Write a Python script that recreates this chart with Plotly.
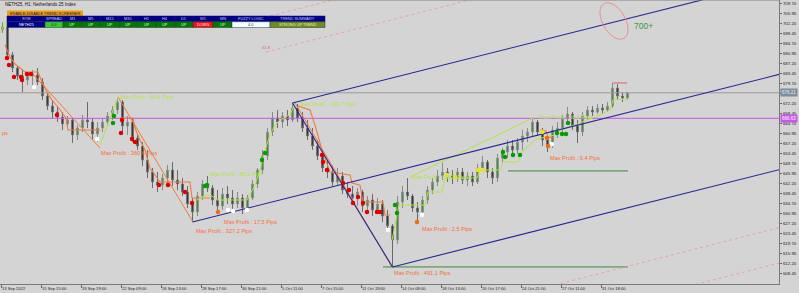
import numpy as np
import plotly.graph_objects as go

# ---------------- data ----------------
opens = [699.75, 700.9, 690.4, 685.5, 682.5, 681.0, 682.5, 682.9, 680.25, 675.0,
         671.25, 669.0, 667.1, 664.5, 666.0, 660.4, 663.0, 666.0, 665.25, 660.75,
         663.0, 665.25, 667.5, 669.75, 672.75, 663.75, 665.25, 659.25, 656.25, 651.0,
         646.5, 642.75, 641.6, 644.25, 647.25, 643.5, 642.0, 639.0, 634.5, 631.5,
         637.5, 642.0, 640.5, 636.0, 633.75, 638.25, 636.75, 634.5, 636.75, 633.0,
         636.75, 642.0, 647.25, 652.5, 661.5, 666.75, 665.25, 667.5, 666.0, 670.5,
         666.75, 663.0, 660.0, 656.25, 652.5, 648.0, 646.5, 642.75, 645.0, 639.75,
         638.25, 636.75, 639.0, 633.75, 636.0, 632.25, 634.5, 630.0, 626.25, 621.0,
         635.25, 639.0, 637.5, 633.0, 631.5, 636.0, 639.75, 642.75, 645.0, 646.5,
         645.0, 644.25, 646.5, 643.5, 645.0, 642.75, 648.0, 650.25, 646.5, 644.25,
         651.75, 654.0, 656.25, 654.75, 657.75, 660.0, 661.5, 665.25, 661.5, 658.5,
         656.25, 662.25, 663.0, 666.75, 668.25, 663.75, 661.5, 667.5, 669.75, 669.0,
         670.5, 669.75, 671.25, 678.0, 675.0, 674.25]
highs = [702.75, 701.6, 691.5, 686.25, 684.75, 684.0, 684.75, 685.5, 681.75, 676.5,
         673.5, 671.25, 669.0, 667.5, 666.75, 664.1, 667.9, 672.75, 666.75, 665.25,
         666.75, 669.0, 671.25, 674.6, 673.5, 667.5, 666.75, 660.4, 657.75, 654.75,
         648.0, 646.5, 645.75, 649.1, 650.25, 647.25, 644.25, 641.25, 636.75, 639.0,
         643.5, 645.0, 641.6, 639.75, 640.5, 641.25, 639.75, 639.0, 638.25, 637.9,
         643.5, 648.0, 654.75, 663.0, 669.0, 669.75, 669.0, 669.75, 672.4, 672.0,
         669.0, 666.0, 663.0, 658.5, 654.75, 651.0, 649.1, 648.0, 646.5, 642.75,
         641.25, 640.5, 639.75, 637.5, 638.25, 636.75, 636.0, 632.25, 627.0, 637.5,
         641.25, 644.25, 638.25, 635.25, 637.5, 641.25, 644.25, 647.25, 649.9, 648.0,
         647.25, 648.0, 648.0, 646.5, 646.5, 649.5, 652.5, 651.0, 648.0, 653.25,
         655.5, 658.5, 658.5, 659.25, 662.25, 663.0, 666.75, 666.0, 663.0, 660.0,
         663.75, 665.25, 667.9, 670.9, 669.0, 666.0, 669.0, 671.25, 671.25, 672.0,
         672.0, 672.75, 679.9, 679.5, 676.5, 676.5]
lows = [698.6, 688.5, 684.0, 681.0, 676.5, 679.1, 678.0, 679.1, 673.5, 669.75,
        666.75, 665.25, 662.25, 663.0, 657.4, 658.5, 661.5, 663.0, 658.5, 657.75,
        661.5, 663.75, 666.0, 668.25, 661.5, 660.4, 657.75, 654.75, 648.75, 644.25,
        640.5, 639.0, 639.75, 642.0, 641.25, 639.75, 637.5, 633.0, 627.75, 630.0,
        636.0, 639.0, 634.1, 631.5, 632.25, 634.5, 632.25, 633.0, 630.75, 631.5,
        636.0, 640.5, 645.75, 651.0, 660.0, 663.0, 663.0, 663.75, 665.25, 665.25,
        661.5, 658.5, 654.75, 651.0, 646.5, 644.25, 641.25, 641.25, 638.25, 636.75,
        635.25, 633.75, 631.5, 630.75, 630.0, 630.75, 627.75, 624.0, 610.9, 619.5,
        633.0, 636.0, 631.5, 627.0, 630.0, 634.5, 638.25, 641.25, 643.5, 642.75,
        642.0, 642.75, 642.0, 641.25, 641.25, 642.0, 646.5, 644.25, 642.0, 642.75,
        650.25, 651.75, 652.5, 653.25, 654.75, 657.75, 660.0, 660.0, 656.25, 654.0,
        655.5, 659.25, 661.5, 665.25, 662.25, 657.4, 660.0, 666.0, 667.5, 668.25,
        668.25, 669.0, 670.5, 673.5, 672.75, 673.5]
closes = [700.9, 690.4, 685.5, 682.5, 681.0, 682.5, 682.9, 680.25, 675.0, 671.25,
          669.0, 667.1, 664.5, 666.0, 660.4, 663.0, 666.0, 665.25, 660.75, 663.0,
          665.25, 667.5, 669.75, 672.75, 663.75, 665.25, 659.25, 656.25, 651.0, 646.5,
          642.75, 641.6, 644.25, 647.25, 643.5, 642.0, 639.0, 634.5, 631.5, 637.5,
          642.0, 640.5, 636.0, 633.75, 638.25, 636.75, 634.5, 636.75, 633.0, 636.75,
          642.0, 647.25, 652.5, 661.5, 666.75, 665.25, 667.5, 666.0, 670.5, 666.75,
          663.0, 660.0, 656.25, 652.5, 648.0, 646.5, 642.75, 645.0, 639.75, 638.25,
          636.75, 639.0, 633.75, 636.0, 632.25, 634.5, 630.0, 626.25, 621.0, 635.25,
          639.0, 637.5, 633.0, 631.5, 636.0, 639.75, 642.75, 645.0, 646.5, 645.0,
          644.25, 646.5, 643.5, 645.0, 642.75, 648.0, 650.25, 646.5, 644.25, 651.75,
          654.0, 656.25, 654.75, 657.75, 660.0, 661.5, 665.25, 661.5, 658.5, 656.25,
          662.25, 663.0, 666.75, 668.25, 663.75, 661.5, 667.5, 669.75, 669.0, 670.5,
          669.75, 671.25, 678.0, 675.0, 674.25, 676.21]

x_tick_bars = [-0.3, 7.7, 15.7, 23.7, 31.7, 39.7, 47.7, 55.7, 63.7, 71.7,
               79.7, 87.7, 95.7, 103.7, 111.7, 119.7]
x_tick_labels = ["13 Sep 2022", "15 Sep 15:00", "19 Sep 19:00", "22 Sep 09:00",
                 "26 Sep 13:00", "28 Sep 17:00", "30 Sep 21:00", "5 Oct 11:00",
                 "7 Oct 15:00", "11 Oct 19:00", "14 Oct 08:00", "18 Oct 13:00",
                 "20 Oct 17:00", "24 Oct 21:00", "27 Oct 11:00", "31 Oct 18:00"]
y_ticks = [709.70, 705.95, 702.20, 698.45, 694.70, 690.95, 687.20, 683.45, 679.70,
           675.95, 672.20, 668.45, 664.70, 660.95, 657.20, 653.45, 649.70, 645.95,
           642.20, 638.45, 634.70, 630.95, 627.20, 623.45, 619.70, 615.95, 612.20, 608.45]

bid_price = 676.21
magenta_level = 666.63

# trend channel (anchor points: bar, price)
chan_upper = ([58, 100], [672.4, 692.2])
chan_mid = ([38, 100], [627.75, 657.0])
chan_low = ([78, 120], [610.9, 630.7])
trend_down = ([58, 78], [672.4, 610.9])
# dotted fib lines
fib_a = ([52.7, 80], [691.5, 704.6])
fib_b = ([53.5, 60], [705.0, 708.1])
fib_c = ([147.5, 120], [621.9, 608.7])
fib_d = ([147.5, 140], [608.6, 605.0])

# zigzag / trailing indicator lines
orange_zz = [([5.9, 19.5], [683.6, 655.5]),
             ([23.1, 38.1], [674.6, 627.75]),
             ([58.5, 77.9], [672.4, 610.9])]
orange_trail = [
    ([0.5, 1.5, 2.5, 3.5, 4.5, 7.1, 7.9, 8.9, 9.9, 10.9, 11.9, 12.7, 13.1, 19.5],
     [694.1, 689.6, 687.0, 685.5, 684.0, 684.0, 680.25, 676.5, 673.5, 671.25, 668.6, 666.75, 662.25, 662.25]),
    ([23.5, 26.1, 26.5, 27.5, 28.5, 29.5, 31.5, 37.5, 37.9, 41.5],
     [666.75, 666.75, 663.0, 658.5, 654.75, 648.0, 642.75, 642.75, 636.75, 636.75]),
    ([59.1, 61.5, 62.5, 63.9, 65.5, 69.5, 69.9, 71.5, 72.1, 76.1, 76.5, 77.5],
     [671.25, 669.75, 664.1, 654.75, 646.5, 645.4, 642.4, 641.6, 635.25, 635.25, 630.4, 630.4]),
    ([107.5, 108.7, 109.1, 110.1], [662.25, 661.9, 659.6, 659.25]),
]
green_trail = [
    ([-0.5, 0.9], [698.6, 703.5]),
    ([19.5, 23.1], [656.6, 674.6]),
    ([38.9, 40.9, 41.9, 42.9, 48.9, 49.5, 50.5, 51.5, 52.5, 53.5, 54.5, 55.5, 57.5, 58.5],
     [636.0, 637.9, 637.5, 636.0, 636.0, 637.9, 641.6, 647.25, 654.75, 660.4, 664.1, 666.0, 667.9, 672.0]),
    ([77.9, 78.5, 79.3, 84.5, 85.1, 87.9, 88.5, 94.9, 95.5, 99.5, 100.1, 103.1, 103.9, 106.5,
      108.5, 110.5, 111.5, 112.9, 115.5, 119.5, 121.5, 122.1, 125.1],
     [621.0, 626.6, 634.1, 634.1, 639.0, 639.0, 644.25, 644.25, 647.25, 647.25, 650.25, 650.25,
      654.0, 658.5, 659.6, 660.4, 662.25, 663.0, 664.9, 667.9, 669.75, 673.5, 673.9]),
    ([81.5, 106.5], [644.6, 667.1]),
]
green_levels = [([101.1, 125.1], [646.9, 646.9]), ([76.1, 125.1], [610.9, 610.9])]
red_level = ([122.1, 124.9], [679.9, 679.9])

red_dots = ([0.9, 1.3, 2.3, 3.7, 3.9, 4.9, 5.7, 10.9, 23.9, 23.7, 25.9, 26.5, 31.3, 33.1, 36.5, 37.9,
             63.9, 64.1, 64.9, 68.1, 69.3, 70.1, 71.1, 72.1, 72.9, 74.9, 75.5],
            [689.25, 686.6, 682.1, 682.1, 681.0, 683.25, 683.25, 667.9, 666.0, 661.1, 658.9, 657.75,
             641.6, 641.6, 639.0, 634.9, 652.9, 650.25, 647.25, 642.4, 639.75, 634.9, 637.1, 634.9,
             631.5, 631.5, 631.5])
green_dots = ([22.1, 22.3, 40.5, 40.9, 51.9, 52.5, 78.5, 78.9, 100.1, 100.5, 102.1, 103.5, 110.9,
               111.9, 112.7, 113.1],
              [664.9, 667.5, 641.25, 641.6, 651.0, 653.6, 634.1, 631.1, 654.0, 652.1, 652.9, 652.9,
               661.1, 660.75, 660.75, 664.9])
white_dots = ([6.3, 18.9, 45.1, 46.1, 48.9, 77.1, 83.9, 109.9],
              [678.4, 658.9, 632.25, 631.9, 632.25, 624.75, 630.4, 657.0])
yellow_dots = ([88.9, 90.5, 95.1, 96.1, 107.9], [645.4, 644.6, 647.25, 647.25, 661.5])
orange_dots = ([43.1, 82.9, 108.9, 109.1], [631.5, 627.75, 659.25, 656.25])

profit_labels = [
    (23.1, 674.6, "Max Profit : 85.4 Pips", "g"),
    (19.3, 653.6, "Max Profit : 360.6 Pips", "o"),
    (41.1, 645.75, "Max Profit : 86.2 Pips", "g"),
    (43.9, 627.75, "Max Profit : 17.5 Pips", "o"),
    (38.3, 624.4, "Max Profit : 327.2 Pips", "o"),
    (59.1, 672.0, "Max Profit : 133.7 Pips", "g"),
    (77.9, 608.6, "Max Profit : 491.1 Pips", "o"),
    (83.5, 625.1, "Max Profit : 2.5 Pips", "o"),
    (109.1, 651.75, "Max Profit : 9.4 Pips", "o"),
    (81.5, 644.6, "Max Profit : 115.2 Pips", "g"),
    (106.9, 667.1, "Max Profit : 36.3 Pips", "g"),
    (-0.5, 661.1, "ps", "o"),
]

title_text = "NETH25, H1: Netherlands 25 Index"
screener_title = "ENABLE-DISABLE TREND SCREENER"
table_headers = ["SYM", "SPREAD", "M1", "M5", "M15", "M30", "H1", "H4", "D1", "W1", "MN",
                 "FUZZY LOGIC", "TREND SUMMARY"]
table_values = ["NETH25", "4.0", "UP", "UP", "UP", "UP", "UP", "UP", "UP", "DOWN", "UP",
                "4.0", "STRONG UP TREND"]

# ---------------- styling / layout helpers ----------------
W, H = 799, 293
PW, PH = 779, 284
X_RANGE = [-0.5, 155.3]
Y_RANGE = [604.5, 711.0]
FONT = "Liberation Sans"
BLUE = "#26269a"
ORANGE = "#f07a3c"
ORANGE_T = "#ff6a33"
YGREEN = "#b2e640"
BG = "#d4d4d4"


def pp(x, y):
    return x / PW, 1 - y / PH


fig = go.Figure()


def add_line(xs, ys, color, width=1.0, dash=None):
    fig.add_trace(go.Scatter(x=xs, y=ys, mode="lines",
                             line=dict(color=color, width=width, dash=dash),
                             hoverinfo="skip", showlegend=False))


def ray(pts, x_from=None, x_to=156.0):
    (x0, x1), (y0, y1) = pts
    k = (y1 - y0) / (x1 - x0)
    xa = x0 if x_from is None else x_from
    return [xa, x_to], [y0 + k * (xa - x0), y0 + k * (x_to - x0)]


bars = list(range(len(closes)))
fig.add_trace(go.Candlestick(
    x=bars, open=opens, high=highs, low=lows, close=closes,
    increasing=dict(line=dict(color="#8a8a8a", width=1), fillcolor="#1e8c1e"),
    decreasing=dict(line=dict(color="#6a6a6a", width=1), fillcolor="#1c1c1c"),
    whiskerwidth=0, hoverinfo="skip", showlegend=False))

# horizontal levels
add_line([X_RANGE[0], X_RANGE[1]], [bid_price, bid_price], "#9a9a9a", 1)
add_line([X_RANGE[0], X_RANGE[1]], [magenta_level, magenta_level], "#cc55ee", 1)

# indicator lines
for xs, ys in orange_trail:
    add_line(xs, ys, ORANGE, 1.1)
for xs, ys in orange_zz:
    add_line(xs, ys, ORANGE, 1.0)
for xs, ys in green_trail:
    add_line(xs, ys, YGREEN, 1.0)
for xs, ys in green_levels:
    add_line(xs, ys, "#3c8a3c", 1.0)
add_line(red_level[0], red_level[1], "#e06060", 1.0)

# channel + trend lines
for ch in (chan_upper, chan_mid, chan_low):
    xs, ys = ray(ch)
    add_line(xs, ys, BLUE, 1.1)
add_line(trend_down[0], trend_down[1], BLUE, 1.1)

# dotted fib lines
for f, start in ((fib_a, None), (fib_b, None), (fib_c, 100.0), (fib_d, 120.0)):
    xs, ys = ray(f, x_from=start)
    add_line(xs, ys, "#ee9a9a", 0.9, "dot")

# dots
for (xs, ys), col in ((red_dots, "#e00000"), (green_dots, "#00a000"), (white_dots, "#ffffff"),
                      (yellow_dots, "#f0e020"), (orange_dots, "#f06a10")):
    fig.add_trace(go.Scatter(x=xs, y=ys, mode="markers",
                             marker=dict(color=col, size=4.5, line=dict(width=0)),
                             hoverinfo="skip", showlegend=False))

annotations = []
for x, y, t, c in profit_labels:
    annotations.append(dict(x=x, y=y, xref="x", yref="y", text=t, showarrow=False,
                            xanchor="left", yanchor="middle",
                            font=dict(family=FONT, size=5.6, color=YGREEN if c == "g" else ORANGE_T)))

# fib label
annotations.append(dict(x=fib_a[0][0], y=fib_a[1][0], xref="x", yref="y", text="61.8",
                        showarrow=False, xanchor="center", yanchor="bottom", yshift=0,
                        font=dict(family=FONT, size=4.2, color="#e06060")))

# price boxes on right axis
annotations.append(dict(x=1, xref="paper", y=bid_price, yref="y", text=f"{bid_price:.2f}",
                        showarrow=False, xanchor="left", yanchor="middle", xshift=1,
                        bgcolor="#7d8c9e", borderpad=1,
                        font=dict(family=FONT, size=4.5, color="#e8eef4")))
annotations.append(dict(x=1, xref="paper", y=magenta_level, yref="y", text=f"{magenta_level:.2f}",
                        showarrow=False, xanchor="left", yanchor="middle", xshift=1,
                        bgcolor="#cc55ee", borderpad=1,
                        font=dict(family=FONT, size=4.5, color="#ffffff")))

# "700+" target label and ellipse
px_, py_ = pp(632, 26)
annotations.append(dict(x=px_, y=py_, xref="paper", yref="paper", text="700+", showarrow=False,
                        xanchor="left", yanchor="middle",
                        font=dict(family=FONT, size=8.5, color="#3a9a3a")))

t = np.linspace(0, 2 * np.pi, 60)
th = np.deg2rad(60)
ex = 614 + 20 * np.cos(t) * np.cos(th) - 11.3 * np.sin(t) * np.sin(th)
ey = 21 + 20 * np.cos(t) * np.sin(th) + 11.3 * np.sin(t) * np.cos(th)
path = "M " + " L ".join(f"{pp(a, b)[0]:.5f},{pp(a, b)[1]:.5f}" for a, b in zip(ex, ey)) + " Z"
shapes = [dict(type="path", path=path, xref="paper", yref="paper",
               line=dict(color="#f08a8a", width=1))]

# top border
shapes.append(dict(type="line", xref="paper", yref="paper", x0=0, x1=1, y0=1, y1=1,
                   line=dict(color="#808080", width=1)))

# title
tx, ty = pp(3, 4.5)
annotations.append(dict(x=tx, y=ty, xref="paper", yref="paper", text=title_text, showarrow=False,
                        xanchor="left", yanchor="middle",
                        font=dict(family=FONT, size=4.5, color="#111111")))


def rect(x0, y0, x1, y1, fill, line=None):
    a0, b0 = pp(x0, y0)
    a1, b1 = pp(x1, y1)
    shapes.append(dict(type="rect", xref="paper", yref="paper", x0=a0, x1=a1, y0=b1, y1=b0,
                       fillcolor=fill, line=dict(width=0.5 if line else 0, color=line or fill)))


def text(x, y, s, color, size=3.9):
    a, b = pp(x, y)
    annotations.append(dict(x=a, y=b, xref="paper", yref="paper", text=s, showarrow=False,
                            xanchor="center", yanchor="middle",
                            font=dict(family=FONT, size=size, color=color)))


# screener title bar
rect(7, 10.5, 83, 16, "#f0a000")
text(45, 13.3, screener_title, "#101060")

edges = [7, 45, 63, 81.6, 100.2, 118.8, 137.4, 156, 174.6, 193, 213, 232, 270, 325]
cell_fill = ["#000088", "#33cc33", "#007a00", "#007a00", "#007a00", "#007a00", "#007a00",
             "#007a00", "#007a00", "#ee1111", "#007a00", "#f0ffff", "#6b8e23"]
cell_txt = ["#ffffff", "#1a3a1a", "#d8ffd8", "#d8ffd8", "#d8ffd8", "#d8ffd8", "#d8ffd8",
            "#d8ffd8", "#d8ffd8", "#ffe8e8", "#d8ffd8", "#404040", "#e8f0b0"]
for k, (h, v) in enumerate(zip(table_headers, table_values)):
    x0, x1 = edges[k], edges[k + 1]
    rect(x0, 16, x1, 21.7, "#00008b", "#00008b")
    rect(x0, 21.7, x1, 27.5, cell_fill[k], "#303030")
    text((x0 + x1) / 2, 18.9, h, "#c8c8ff")
    text((x0 + x1) / 2, 24.6, v, cell_txt[k])

fig.update_layout(
    width=W, height=H,
    margin=dict(l=0, r=W - PW, t=0, b=H - PH),
    paper_bgcolor=BG, plot_bgcolor=BG,
    showlegend=False,
    boxgap=0.55,
    annotations=annotations, shapes=shapes,
    font=dict(family=FONT, size=5, color="#222222"),
    xaxis=dict(range=X_RANGE, rangeslider=dict(visible=False), showgrid=False, zeroline=False,
               tickmode="array", tickvals=x_tick_bars, ticktext=x_tick_labels,
               ticks="outside", ticklen=3, tickcolor="#666666",
               ticklabelposition="outside right",
               tickfont=dict(family=FONT, size=4.1, color="#222222"),
               showline=True, linecolor="#7a7a7a", linewidth=1, fixedrange=True),
    yaxis=dict(range=Y_RANGE, side="right", showgrid=False, zeroline=False,
               tickmode="array", tickvals=y_ticks, tickformat=".2f",
               ticks="outside", ticklen=2, tickcolor="#666666",
               tickfont=dict(family=FONT, size=4.4, color="#222222"),
               showline=True, linecolor="#7a7a7a", linewidth=1, fixedrange=True),
)

fig.write_html("out.html")
